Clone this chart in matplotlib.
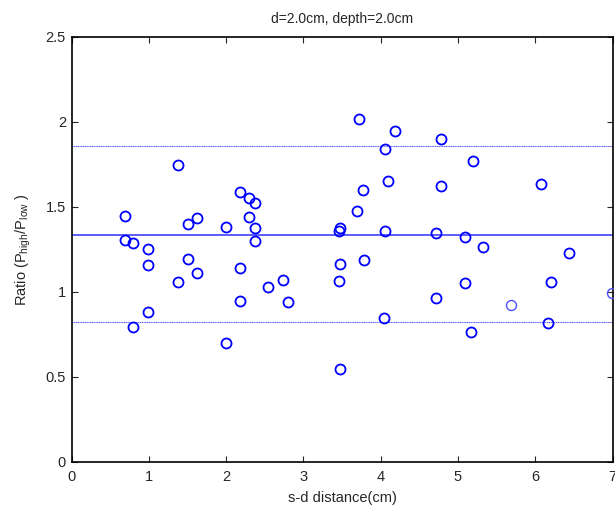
import matplotlib
matplotlib.use("Agg")
import matplotlib.pyplot as plt

plt.rcParams['font.family'] = ['Liberation Sans', 'DejaVu Sans']

# source-detector distance (cm) and high/low power ratio
distance = [0.69, 0.69, 0.79, 0.79, 0.99, 0.99, 0.99, 1.38, 1.38, 1.51,
            1.51, 1.62, 1.62, 1.995, 1.995, 2.18, 2.18, 2.18, 2.29, 2.29,
            2.37, 2.37, 2.37, 2.54, 2.74, 2.80, 3.46, 3.48, 3.48, 3.46,
            3.48, 3.69, 3.72, 3.77, 3.78, 4.05, 4.09, 4.05, 4.04, 4.19,
            4.72, 4.72, 4.78, 4.78, 5.09, 5.09, 5.17, 5.19, 5.32, 6.08,
            6.16, 6.21, 6.44]
ratio = [1.445, 1.304, 1.288, 0.792, 1.253, 1.159, 0.881, 1.745, 1.055, 1.40,
         1.194, 1.432, 1.108, 1.379, 0.696, 1.585, 1.138, 0.945, 1.549, 1.438,
         1.524, 1.373, 1.298, 1.03, 1.071, 0.939, 1.355, 1.375, 1.161, 1.063,
         0.543, 1.477, 2.018, 1.60, 1.188, 1.839, 1.651, 1.357, 0.843, 1.943,
         1.347, 0.961, 1.90, 1.62, 1.322, 1.049, 0.763, 1.769, 1.263, 1.635,
         0.816, 1.057, 1.226]

# samples drawn in a lighter shade
distance_light = [5.69, 6.99]
ratio_light = [0.924, 0.99]

# mean and mean +/- one standard deviation
mean_ratio = 1.335
upper_ratio = 1.857
lower_ratio = 0.822

x_ticks = [0, 1, 2, 3, 4, 5, 6, 7]
y_ticks = [0, 0.5, 1, 1.5, 2, 2.5]
y_tick_labels = ['0', '0.5', '1', '1.5', '2', '2.5']

fig = plt.figure(figsize=(6.15, 5.07), dpi=100)
ax = fig.add_axes([0.1163, 0.0893, 0.8797, 0.8383])

ax.axhline(mean_ratio, color='#5c5cff', lw=1.4, zorder=1)
ax.axhline(upper_ratio, color='#5050ff', lw=0.8, ls=(0, (1, 0.6)), zorder=1)
ax.axhline(lower_ratio, color='#5050ff', lw=0.8, ls=(0, (1, 0.6)), zorder=1)

ax.plot(distance, ratio, 'o', mfc='none', mec='#0000ff', ms=7.2, mew=1.3,
        zorder=3)
ax.plot(distance_light, ratio_light, 'o', mfc='none', mec='#4d4dff', ms=7.2,
        mew=1.0, zorder=3)

ax.set_xlim(0, 7)
ax.set_ylim(0, 2.5)
ax.set_xticks(x_ticks)
ax.set_yticks(y_ticks)
ax.set_yticklabels(y_tick_labels)
ax.tick_params(direction='in', length=4, width=0.8, top=True, right=True,
               labelsize=10.5, colors='#262626')
ax.tick_params(axis='x', pad=6)
ax.tick_params(axis='y', pad=4)
for s in ax.spines.values():
    s.set_linewidth(1.2)
    s.set_color('black')

ax.set_title('d=2.0cm, depth=2.0cm', fontsize=10, color='#262626', pad=10)
ax.set_xlabel('s-d distance(cm)', fontsize=10.5, color='#262626', labelpad=5)
ax.set_ylabel(r'Ratio (P$_{\mathregular{high}}$/P$_{\mathregular{low}}$ )',
              fontsize=10.5, color='#262626', labelpad=9)

fig.savefig('out.png', dpi=100)
